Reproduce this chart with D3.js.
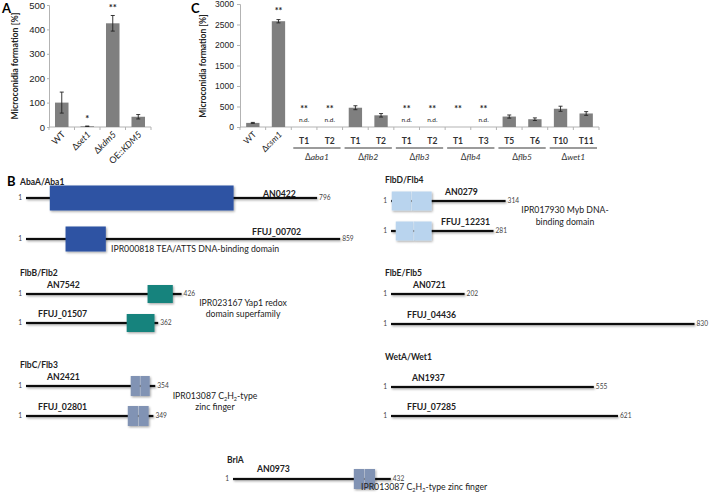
<!DOCTYPE html>
<html>
<head>
<meta charset="utf-8">
<script src="https://cdn.jsdelivr.net/npm/d3@7"></script>
<style>
  html, body { margin: 0; padding: 0; background: #fff; }
  svg { display: block; font-family: Lato, "Open Sans", sans-serif; }
</style>
</head>
<body>
<svg id="fig" width="709" height="493"></svg>
<script>
// ─── Panel A data ───────────────────────────────────────────
const catsA = ["WT", "Δset1", "Δkdm5", "OE::KDM5"];
const valuesA = [100, 3, 425, 42];
const errorsA = [43, 1, 32, 9];
const sigA = ["", "*", "**", ""];
const ticksA = [0, 100, 200, 300, 400, 500];

// ─── Panel C data ───────────────────────────────────────────
const keysC = ["WT", "csm1", "aba1-T1", "aba1-T2", "flb2-T1", "flb2-T2", "flb3-T1", "flb3-T2",
  "flb4-T1", "flb4-T3", "flb5-T5", "flb5-T6", "wet1-T10", "wet1-T11"];
const tickLabelsC = ["WT", "Δcsm1", "T1", "T2", "T1", "T2", "T1", "T2", "T1", "T3", "T5", "T6", "T10", "T11"];
const valuesC = [100, 2580, 0, 0, 470, 285, 0, 0, 0, 0, 255, 190, 445, 330];
const errorsC = [12, 40, 0, 0, 48, 42, 0, 0, 0, 0, 38, 32, 62, 45];
const sigC = ["", "**", "**", "**", "", "", "**", "**", "**", "**", "", "", "", ""];
const notDetectedC = [false, false, true, true, false, false, true, true, false, true, false, false, false, false];
const groupNamesC = ["aba1", "flb2", "flb3", "flb4", "flb5", "wet1"];
const ticksC = [0, 500, 1000, 1500, 2000, 2500, 3000];

// ─── Panel B data (aa positions) ────────────────────────────
const familyNames = ["AbaA/Aba1", "FlbB/Flb2", "FlbC/Flb3", "FlbD/Flb4", "FlbE/Flb5", "WetA/Wet1", "BrlA"];
const proteinIds = [["AN0422", "FFUJ_00702"], ["AN7542", "FFUJ_01507"], ["AN2421", "FFUJ_02801"],
  ["AN0279", "FFUJ_12231"], ["AN0721", "FFUJ_04436"], ["AN1937", "FFUJ_07285"], ["AN0973"]];
const proteinLengths = [[796, 859], [426, 362], [354, 349], [314, 281], [202, 830], [555, 621], [432]];
const domainTypes = ["tea", "yap", "zf", "myb", "", "", "zf"];
const domainRanges = [
  [[[66, 568]], [[109, 219]]],
  [[[333, 402]], [[276, 352]]],
  [[[287, 313], [313, 339]], [[279, 308], [308, 336]]],
  [[[3, 57], [57, 112]], [[14, 63], [63, 112]]],
  [[], []],
  [[], []],
  [[[331, 360], [360, 389]]]
];
const domainLabels = [
  ["IPR000818 TEA/ATTS DNA-binding domain"],
  ["IPR023167 Yap1 redox", "domain superfamily"],
  ["IPR013087 C|2|H|2|-type", "zinc finger"],
  ["IPR017930 Myb DNA-", "binding domain"],
  [], [],
  ["IPR013087 C|2|H|2|-type zinc finger"]
];

const svg = d3.select("#fig");

// soft shadow used for the protein lines and domains
const defs = svg.append("defs");
const shadow = defs.append("filter").attr("id", "sh").attr("filterUnits", "userSpaceOnUse")
  .attr("x", 0).attr("y", 0).attr("width", 709).attr("height", 493);
shadow.append("feDropShadow").attr("dx", 1).attr("dy", 1.2).attr("stdDeviation", 0.9)
  .attr("flood-color", "#000").attr("flood-opacity", 0.35);

const barFill = "#7f7f7f";
const axisColor = "#b3b3b3";

function styleAxis(g, size) {
  g.select(".domain").attr("stroke", axisColor);
  g.selectAll(".tick line").attr("stroke", axisColor);
  g.selectAll(".tick text").attr("fill", "#222").attr("font-size", size);
}

// writes "Δ" upright followed by the italic gene name
function deltaLabel(sel, label) {
  if (label.startsWith("Δ")) {
    sel.append("tspan").text("Δ");
    sel.append("tspan").attr("font-style", "italic").text(label.slice(1));
  } else if (label.startsWith("OE::")) {
    sel.append("tspan").text("OE::");
    sel.append("tspan").attr("font-style", "italic").text(label.slice(4));
  } else {
    sel.text(label);
  }
}

function errorBars(g, keys, vals, errs, x, y) {
  keys.forEach((k, i) => {
    if (!errs[i]) return;
    const cx = x(k) + x.bandwidth() / 2;
    const eg = g.append("g").attr("stroke", "#222").attr("stroke-width", 0.9);
    eg.append("line").attr("x1", cx).attr("x2", cx)
      .attr("y1", y(vals[i] + errs[i])).attr("y2", y(Math.max(0, vals[i] - errs[i])));
    [vals[i] + errs[i], Math.max(0, vals[i] - errs[i])].forEach(v => {
      eg.append("line").attr("x1", cx - 2).attr("x2", cx + 2).attr("y1", y(v)).attr("y2", y(v));
    });
  });
}

// ─── Panel A ────────────────────────────────────────────────
{
  const x = d3.scaleBand().domain(catsA).range([49, 151]).paddingInner(0.47).paddingOuter(0.235);
  const y = d3.scaleLinear().domain([0, 500]).range([127, 5]);
  const g = svg.append("g");

  g.append("text").attr("x", 2).attr("y", 13).attr("font-weight", "bold").attr("font-size", 13).text("A");

  g.append("g").attr("transform", "translate(49,0)")
    .call(d3.axisLeft(y).tickValues(ticksA).tickSize(2).tickPadding(2).tickFormat(d3.format("d")))
    .call(styleAxis, 9.5);

  g.append("line").attr("x1", 49).attr("x2", 151).attr("y1", y(0)).attr("y2", y(0)).attr("stroke", axisColor);
  catsA.forEach(c => {
    const bx = x(c) - x.step() * x.paddingInner() / 2;
    g.append("line").attr("x1", bx).attr("x2", bx).attr("y1", y(0)).attr("y2", y(0) + 3).attr("stroke", axisColor);
  });
  g.append("line").attr("x1", 151).attr("x2", 151).attr("y1", y(0)).attr("y2", y(0) + 3).attr("stroke", axisColor);

  g.selectAll("rect.bar").data(catsA).join("rect").attr("class", "bar")
    .attr("x", d => x(d)).attr("width", x.bandwidth())
    .attr("y", (d, i) => y(valuesA[i])).attr("height", (d, i) => y(0) - y(valuesA[i]))
    .attr("fill", barFill);

  errorBars(g, catsA, valuesA, errorsA, x, y);

  catsA.forEach((c, i) => {
    if (!sigA[i]) return;
    g.append("text").attr("x", x(c) + x.bandwidth() / 2)
      .attr("y", y(valuesA[i] + errorsA[i]) - 4)
      .attr("text-anchor", "middle").attr("font-size", 9.5).attr("font-weight", "bold").attr("fill", "#222")
      .text(sigA[i]);
  });

  catsA.forEach(c => {
    const cx = x(c) + x.bandwidth() / 2 + 4;
    const t = g.append("text").attr("transform", `translate(${cx},${y(0) + 8}) rotate(-45)`)
      .attr("text-anchor", "end").attr("font-size", 9).attr("fill", "#222");
    deltaLabel(t, c);
  });

  g.append("text").attr("transform", "translate(18,66) rotate(-90)")
    .attr("text-anchor", "middle").attr("font-size", 8.8).attr("font-weight", "bold").attr("fill", "#222")
    .text("Microconidia formation [%]");
}

// ─── Panel C ────────────────────────────────────────────────
{
  const x = d3.scaleBand().domain(keysC).range([240, 599]).paddingInner(0.48).paddingOuter(0.24);
  const y = d3.scaleLinear().domain([0, 3000]).range([127, 4]);
  const g = svg.append("g");

  g.append("text").attr("x", 191).attr("y", 13).attr("font-weight", "bold").attr("font-size", 13).text("C");

  g.append("g").attr("transform", "translate(240,0)")
    .call(d3.axisLeft(y).tickValues(ticksC).tickSize(3).tickPadding(3).tickFormat(d3.format("d")))
    .call(styleAxis, 8.5);

  g.append("line").attr("x1", 240).attr("x2", 599).attr("y1", y(0)).attr("y2", y(0)).attr("stroke", axisColor);
  keysC.forEach(k => {
    const bx = x(k) - x.step() * x.paddingInner() / 2;
    g.append("line").attr("x1", bx).attr("x2", bx).attr("y1", y(0)).attr("y2", y(0) + 3).attr("stroke", axisColor);
  });
  g.append("line").attr("x1", 599).attr("x2", 599).attr("y1", y(0)).attr("y2", y(0) + 3).attr("stroke", axisColor);

  g.selectAll("rect.bar").data(keysC).join("rect").attr("class", "bar")
    .attr("x", d => x(d)).attr("width", x.bandwidth())
    .attr("y", (d, i) => y(valuesC[i])).attr("height", (d, i) => y(0) - y(valuesC[i]))
    .attr("fill", barFill);

  errorBars(g, keysC, valuesC, errorsC, x, y);

  keysC.forEach((k, i) => {
    const cx = x(k) + x.bandwidth() / 2;
    if (sigC[i]) {
      const sy = valuesC[i] > 0 ? y(valuesC[i] + errorsC[i]) - 6 : y(0) - 15;
      g.append("text").attr("x", cx).attr("y", sy)
        .attr("text-anchor", "middle").attr("font-size", 9).attr("font-weight", "bold").attr("fill", "#222")
        .text(sigC[i]);
    }
    if (notDetectedC[i]) {
      g.append("text").attr("x", cx).attr("y", y(0) - 5)
        .attr("text-anchor", "middle").attr("font-size", 6.5).attr("fill", "#222").text("n.d.");
    }
  });

  // strain labels: first two rotated, transformants upright
  keysC.forEach((k, i) => {
    const cx = x(k) + x.bandwidth() / 2;
    if (i < 2) {
      const t = g.append("text").attr("transform", `translate(${cx + 4},${y(0) + 8}) rotate(-45)`)
        .attr("text-anchor", "end").attr("font-size", 8.5).attr("fill", "#222");
      deltaLabel(t, tickLabelsC[i]);
    } else {
      g.append("text").attr("x", cx).attr("y", y(0) + 17)
        .attr("text-anchor", "middle").attr("font-size", 8.5).attr("font-weight", "bold").attr("fill", "#333")
        .text(tickLabelsC[i]);
    }
  });

  groupNamesC.forEach((name, j) => {
    const k0 = keysC[2 + j * 2], k1 = keysC[3 + j * 2];
    const x0 = x(k0) - x.step() * x.paddingInner() / 2 + 2;
    const x1 = x(k1) + x.bandwidth() + x.step() * x.paddingInner() / 2 - 2;
    g.append("line").attr("x1", x0).attr("x2", x1).attr("y1", y(0) + 21).attr("y2", y(0) + 21)
      .attr("stroke", "#7a7a7a").attr("stroke-width", 1.5);
    const t = g.append("text").attr("x", (x0 + x1) / 2).attr("y", y(0) + 33)
      .attr("text-anchor", "middle").attr("font-size", 8.5).attr("fill", "#333");
    deltaLabel(t, "Δ" + name);
  });

  g.append("text").attr("transform", "translate(206,66) rotate(-90)")
    .attr("text-anchor", "middle").attr("font-size", 8.5).attr("font-weight", "bold").attr("fill", "#222")
    .text("Microconidia formation [%]");
}

// ─── Panel B ────────────────────────────────────────────────
{
  const g = svg.append("g");
  g.append("text").attr("x", 7).attr("y", 186).attr("font-weight", "bold").attr("font-size", 13).text("B");

  const aa = d3.scaleLinear().domain([1, 860]).range([0, 314.5]);
  const colour = d3.scaleOrdinal().domain(["tea", "yap", "zf", "myb"])
    .range(["#2f53a3", "#16837d", "#8193b4", "#b9d4ee"]);
  const boxHeight = { tea: 25, yap: 18, zf: 20, myb: 19 };

  // where each family block sits on the page
  const layout = [
    { x: 26, title: 185, rows: [198, 239], ids: [[263, 197], [252, 235]], lab: [111, [252]], anchor: "start" },
    { x: 26, title: 276, rows: [294, 323], ids: [[47, 288], [38, 317]], lab: [243, [306, 317]], anchor: "middle" },
    { x: 26, title: 368, rows: [386, 416], ids: [[47, 380], [38, 410]], lab: [215, [399, 410]], anchor: "middle" },
    { x: 391, title: 183, rows: [201, 231], ids: [[445, 195], [441, 225]], lab: [565, [213, 225]], anchor: "middle" },
    { x: 391, title: 276, rows: [294, 324], ids: [[413, 288], [407, 318]], lab: [0, []], anchor: "start" },
    { x: 391, title: 360, rows: [387, 416], ids: [[412, 381], [407, 410]], lab: [0, []], anchor: "start" },
    { x: 233, title: 463, rows: [479], ids: [[257, 472]], lab: [361, [490]], anchor: "start" }
  ];

  familyNames.forEach((fam, f) => {
    const L = layout[f];
    const fg = g.append("g");
    fg.append("text").attr("x", L.x - 6).attr("y", L.title)
      .attr("font-size", 8.5).attr("font-weight", "bold").attr("fill", "#222").text(fam);

    proteinIds[f].forEach((id, r) => {
      const ly = L.rows[r];
      const len = proteinLengths[f][r];
      const x1 = L.x + aa(len);
      fg.append("text").attr("x", L.x - 4).attr("y", ly + 2.3).attr("text-anchor", "end")
        .attr("font-size", 6.6).attr("fill", "#444").text(1);
      fg.append("rect").attr("x", L.x).attr("width", x1 - L.x).attr("y", ly - 1.1).attr("height", 2.2)
        .attr("fill", "#111").attr("filter", "url(#sh)");
      fg.append("text").attr("x", x1 + 2).attr("y", ly + 2.3)
        .attr("font-size", 6.6).attr("fill", "#444").text(len);
      fg.append("text").attr("x", L.ids[r][0]).attr("y", L.ids[r][1])
        .attr("font-size", 8.7).attr("font-weight", "bold").attr("fill", "#222").text(id);

      const type = domainTypes[f];
      const h = boxHeight[type];
      domainRanges[f][r].forEach(([s, e]) => {
        fg.append("rect").attr("x", L.x + aa(s)).attr("width", aa(e) - aa(s))
          .attr("y", ly - h / 2).attr("height", h)
          .attr("fill", colour(type)).attr("filter", "url(#sh)");
      });
      // small dot where two adjacent repeats meet
      domainRanges[f][r].slice(1).forEach(([s]) => {
        fg.append("rect").attr("x", L.x + aa(s) - 0.5).attr("y", ly - 0.5).attr("width", 1).attr("height", 1)
          .attr("fill", "#333");
        fg.append("line").attr("x1", L.x + aa(s)).attr("x2", L.x + aa(s))
          .attr("y1", ly - h / 2).attr("y2", ly + h / 2).attr("stroke", "#fff").attr("stroke-opacity", 0.35)
          .attr("stroke-width", 0.8);
      });
    });

    domainLabels[f].forEach((line, k) => {
      const t = fg.append("text").attr("x", L.lab[0]).attr("y", L.lab[1][k])
        .attr("text-anchor", L.anchor).attr("font-size", 8.7).attr("fill", "#222");
      line.split("|").forEach((part, p) => {
        if (p % 2 === 1) t.append("tspan").attr("font-size", 5.5).attr("dy", 2).text(part);
        else t.append("tspan").attr("dy", p ? -2 : 0).text(part);
      });
    });
  });
}
</script>
</body>
</html>
